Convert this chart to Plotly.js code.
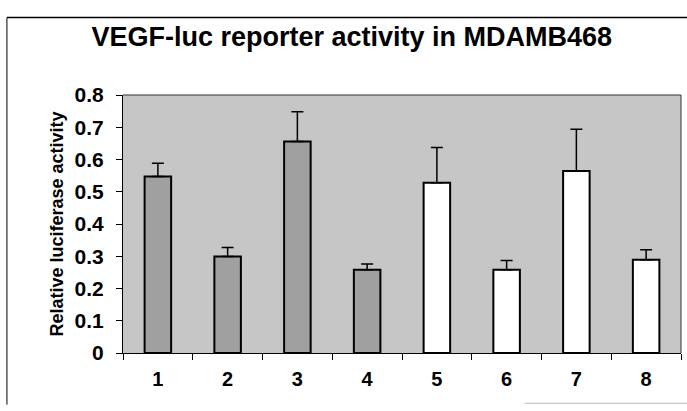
<!DOCTYPE html>
<html>
<head>
<meta charset="utf-8">
<script src="https://cdn.plot.ly/plotly-3.0.1.min.js"></script>
<style>html,body{margin:0;padding:0;background:#fff;}#chart{width:687px;height:411px;}</style>
</head>
<body>
<div id="chart"></div>
<script>
var categories = ["1","2","3","4","5","6","7","8"];
var values = [0.547, 0.299, 0.656, 0.258, 0.528, 0.258, 0.564, 0.289];
var errorsPlus = [0.041, 0.028, 0.092, 0.018, 0.109, 0.029, 0.130, 0.031];
var barColors = ["#a0a0a0","#a0a0a0","#a0a0a0","#a0a0a0","#ffffff","#ffffff","#ffffff","#ffffff"];
var yTickValues = [0,0.1,0.2,0.3,0.4,0.5,0.6,0.7,0.8];
var yTickLabels = ["0","0.1","0.2","0.3","0.4","0.5","0.6","0.7","0.8"];

var FONT = "Liberation Sans, Arial, sans-serif";

var trace = {
  type: "bar",
  x: categories,
  y: values,
  width: 0.38,
  marker: {color: barColors, line: {color: "#000", width: 2}},
  error_y: {type: "data", symmetric: false, array: errorsPlus, arrayminus: values.map(function(){return 0;}), color: "#000", thickness: 1.5, width: 6},
  hoverinfo: "none"
};

var layout = {
  width: 687, height: 411,
  margin: {l: 123, r: 6, t: 95, b: 58},
  paper_bgcolor: "#ffffff",
  plot_bgcolor: "#c6c6c6",
  showlegend: false,
  title: {text: "<b>VEGF-luc reporter activity in MDAMB468</b>", xref: "container", x: 0.512, xanchor: "center",
          yref: "container", y: 0.91, yanchor: "middle",
          font: {family: FONT, size: 27, color: "#000"}},
  xaxis: {type: "category", tickson: "boundaries", ticks: "outside", ticklen: 6, tickcolor: "#000", tickwidth: 1,
          showline: true, linecolor: "#000", linewidth: 1, mirror: false, showgrid: false, ticklabelstandoff: 8,
          tickfont: {family: FONT, size: 20, color: "#000", weight: "bold"}},
  yaxis: {range: [0, 0.8], tickvals: yTickValues, ticktext: yTickLabels, ticks: "outside", ticklen: 6, tickcolor: "#000",
          showline: true, linecolor: "#000", linewidth: 1, showgrid: false, zeroline: false, ticklabelstandoff: 8,
          tickfont: {family: FONT, size: 21, color: "#000", weight: "bold"},
          title: {text: "<b>Relative luciferase activity</b>", standoff: 6, font: {family: FONT, size: 18, color: "#000"}}},
  shapes: [
    {type: "line", xref: "paper", yref: "paper", x0: 1, x1: 1, y0: 0, y1: 1, line: {color: "#333", width: 1}},
    {type: "line", xref: "paper", yref: "paper", x0: 0, x1: 1, y0: 1, y1: 1, line: {color: "#333", width: 1}},
    {type: "line", xref: "paper", yref: "paper", x0: -0.208, x1: -0.208, y0: -0.2, y1: 1.3, line: {color: "#000", width: 1}},
    {type: "line", xref: "paper", yref: "paper", x0: -0.208, x1: 1.02, y0: 1.3, y1: 1.3, line: {color: "#000", width: 1.5}},
    {type: "line", xref: "paper", yref: "paper", x0: 0.72, x1: 1.02, y0: -0.195, y1: -0.195, line: {color: "#bbb", width: 1}}
  ]
};

Plotly.newPlot("chart", [trace], layout, {displayModeBar: false, staticPlot: true});
</script>
</body>
</html>
